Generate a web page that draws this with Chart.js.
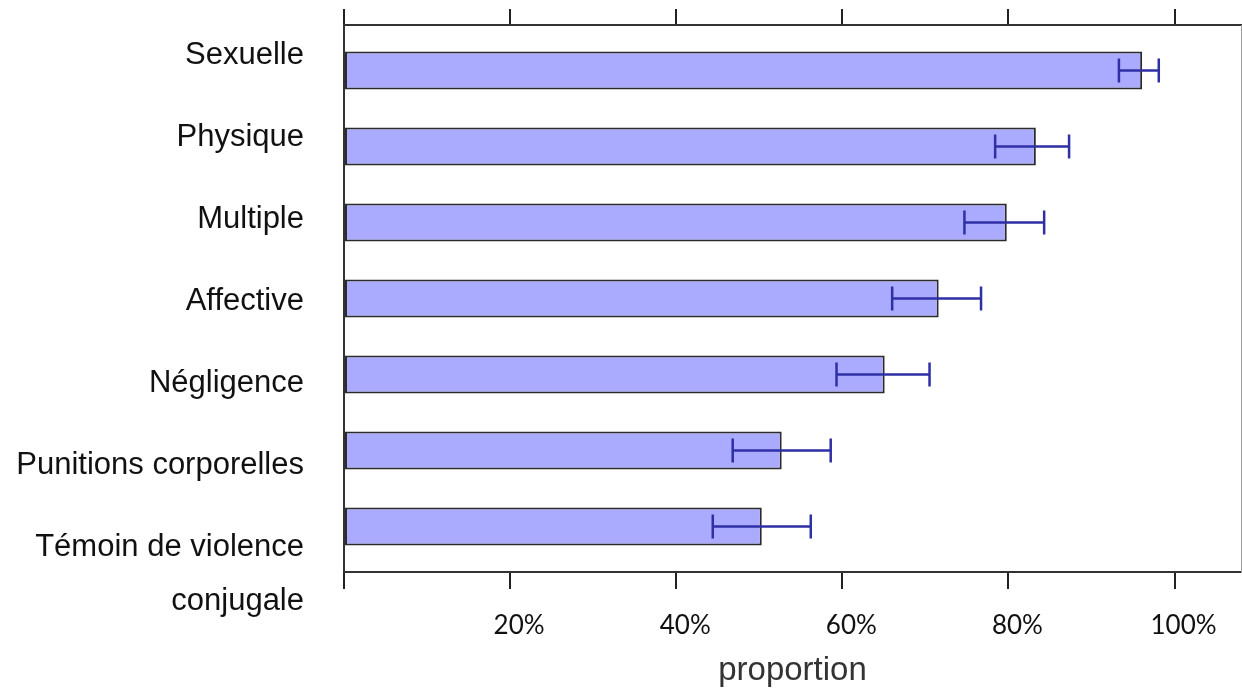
<!DOCTYPE html>
<html lang="fr">
<head>
<meta charset="utf-8">
<title>Proportion par type de maltraitance</title>
<script src="https://cdn.jsdelivr.net/npm/chart.js@4/dist/chart.umd.min.js"></script>
<style>
  html, body { margin: 0; padding: 0; background: #ffffff; }
  canvas { display: block; }
</style>
</head>
<body>
<canvas id="chart" width="1242" height="691"></canvas>
<script>
// Types de maltraitance (de haut en bas)
const categories = [
  'Sexuelle',
  'Physique',
  'Multiple',
  'Affective',
  'Négligence',
  'Punitions corporelles',
  ['Témoin de violence', 'conjugale']
];
// Proportion estimée (%) et intervalle de confiance
const proportions = [96.1, 83.3, 79.8, 71.6, 65.1, 52.7, 50.3];
const ciLow       = [93.3, 78.4, 74.7, 66.0, 59.3, 46.8, 44.4];
const ciHigh      = [98.1, 87.3, 84.3, 76.7, 70.5, 58.6, 56.2];
// Graduations de l'axe des proportions
const xTicks = [0, 20, 40, 60, 80, 100];

const X_MIN = 0, X_MAX = 108;

// Intervalles de confiance : trait horizontal + deux butées
const errorBars = {
  id: 'errorBars',
  afterDatasetsDraw(chart) {
    const xs = chart.scales.x, ys = chart.scales.y, ctx = chart.ctx;
    ctx.save();
    ctx.strokeStyle = '#2f2fa6';
    ctx.lineWidth = 2.5;
    ctx.lineCap = 'butt';
    const cap = 12;
    proportions.forEach((_, i) => {
      const y = ys.getPixelForValue(i);
      const x1 = xs.getPixelForValue(ciLow[i]);
      const x2 = xs.getPixelForValue(ciHigh[i]);
      ctx.beginPath();
      ctx.moveTo(x1, y); ctx.lineTo(x2, y);
      ctx.moveTo(x1, y - cap); ctx.lineTo(x1, y + cap);
      ctx.moveTo(x2, y - cap); ctx.lineTo(x2, y + cap);
      ctx.stroke();
    });
    ctx.restore();
  }
};

const tickValues = (axis) => { axis.ticks = xTicks.map(v => ({ value: v })); };
// tailles d'axes fixes, sans marge de débordement des libellés
const fixSize = (w, h) => (s) => {
  if (w !== null) s.width = w;
  if (h !== null) s.height = h;
  s.paddingTop = 0; s.paddingBottom = 0; s.paddingLeft = 0; s.paddingRight = 0;
};

new Chart(document.getElementById('chart'), {
  type: 'bar',
  data: {
    datasets: [{
      data: proportions.map((v, i) => ({ x: v, y: i })),
      backgroundColor: '#aaaaff',
      borderColor: '#2b2b2b',
      borderWidth: 2,
      borderSkipped: false,
      categoryPercentage: 1,
      barPercentage: 0.5,
      xAxisID: 'x',
      yAxisID: 'y'
    }]
  },
  options: {
    indexAxis: 'y',
    responsive: false,
    devicePixelRatio: 1,
    animation: false,
    layout: { padding: 0 },
    plugins: { legend: { display: false }, tooltip: { enabled: false } },
    scales: {
      x: {
        type: 'linear',
        position: 'bottom',
        offset: false,
        min: X_MIN, max: X_MAX,
        afterBuildTicks: tickValues,
        afterFit: fixSize(null, 119),
        grid: {
          offset: false, drawOnChartArea: false, drawTicks: true, tickLength: 17,
          tickColor: '#222', tickWidth: 2, color: '#222', lineWidth: 2
        },
        border: { display: true, color: '#333', width: 2 },
        ticks: {
          font: { family: 'Lato, "Liberation Sans", sans-serif', size: 26 },
          color: '#111',
          padding: 21,
          labelOffset: 9,
          maxRotation: 0,
          autoSkip: false,
          callback: (v) => v === 0 ? '' : v + '%'
        },
        title: {
          display: true,
          text: 'proportion',
          font: { family: '"Liberation Sans", Arial, sans-serif', size: 33 },
          color: '#333',
          padding: { top: 0, bottom: 0 }
        }
      },
      x2: {
        type: 'linear',
        position: 'top',
        offset: false,
        min: X_MIN, max: X_MAX,
        afterBuildTicks: tickValues,
        afterFit: fixSize(null, 25),
        grid: {
          offset: false, drawOnChartArea: false, drawTicks: true, tickLength: 16,
          tickColor: '#222', tickWidth: 2, color: '#222', lineWidth: 2
        },
        border: { display: true, color: '#333', width: 2 },
        ticks: { display: false }
      },
      y: {
        type: 'linear',
        display: false,
        offset: false,
        reverse: true,
        min: -0.6, max: 6.6,
        grid: { offset: false },
        ticks: { stepSize: 1, includeBounds: false }
      },
      yl: {
        type: 'linear',
        position: 'left',
        offset: false,
        reverse: true,
        min: -0.366, max: 6.305,
        afterBuildTicks: (axis) => {
          // un libellé sur deux lignes est décalé pour que sa première ligne reste à sa place
          axis.ticks = categories.map((c, i) => ({
            value: i + (Array.isArray(c) ? (c.length - 1) * 0.335 : 0)
          }));
        },
        afterFit: fixSize(344, null),
        grid: { display: false, drawTicks: false, offset: false },
        border: { display: true, color: '#333', width: 2 },
        ticks: {
          font: { family: '"Liberation Sans", Arial, sans-serif', size: 31, lineHeight: 1.77 },
          color: '#111',
          padding: 40,
          autoSkip: false,
          callback: (v, i) => categories[i]
        }
      },
      yr: {
        type: 'linear',
        position: 'right',
        offset: false,
        min: 0, max: 1,
        afterFit: fixSize(1, null),
        grid: { display: false, drawTicks: false },
        border: { display: true, color: '#9a9a9a', width: 1 },
        ticks: { display: false }
      }
    }
  },
  plugins: [errorBars]
});
</script>
</body>
</html>
